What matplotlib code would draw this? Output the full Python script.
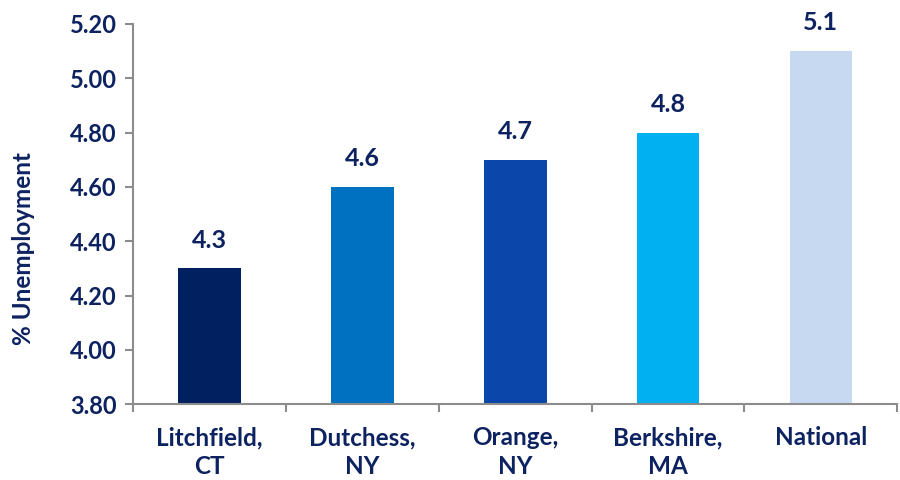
import numpy as np
import matplotlib.pyplot as plt

categories = ["Litchfield,\nCT", "Dutchess,\nNY", "Orange,\nNY", "Berkshire,\nMA", "National"]
rates = [4.3, 4.6, 4.7, 4.8, 5.1]
colors = ["#002060", "#0070C0", "#0B47AB", "#00B0F0", "#C6D9F0"]
y_ticks = [3.80, 4.00, 4.20, 4.40, 4.60, 4.80, 5.00, 5.20]

navy = "#0D2260"
axis_grey = "#8C8C8C"
plt.rcParams['font.family'] = ['Lato', 'DejaVu Sans']

fig = plt.figure(figsize=(9, 4.8), dpi=100)
ax = fig.add_axes([0.148, 0.158, 0.849, 0.792])

x = np.arange(len(categories))
ax.bar(x, rates, width=0.41, color=colors, zorder=2)

for xi, v in zip(x, rates):
    ax.annotate(f"{v:.1f}", (xi, v), xytext=(0, 12), textcoords="offset points",
                ha="center", va="bottom", fontsize=18, fontweight="bold", color=navy)

ax.set_ylim(3.80, 5.20)
ax.set_xlim(-0.5, len(categories) - 0.5)
ax.set_yticks(y_ticks)
ax.set_yticklabels([f"{t:.2f}" for t in y_ticks], fontsize=17, fontweight="bold", color=navy)

ax.set_xticks(x)
ax.set_xticklabels(categories, fontsize=17.5, fontweight="bold", color=navy, linespacing=1.28)
ax.set_xticks(np.arange(len(categories) + 1) - 0.5, minor=True)
ax.tick_params(axis="x", which="major", length=0, pad=16)
ax.tick_params(axis="x", which="minor", length=6, width=1.5, color=axis_grey, direction="out")
ax.tick_params(axis="y", length=6, width=1.5, color=axis_grey, direction="out", pad=6)

for side in ("top", "right"):
    ax.spines[side].set_visible(False)
for side in ("left", "bottom"):
    ax.spines[side].set_color(axis_grey)
    ax.spines[side].set_linewidth(1.5)

ax.set_ylabel("% Unemployment", fontsize=17.5, fontweight="bold", color=navy)
ax.yaxis.set_label_coords(-0.128, 0.41)

fig.savefig("out.png", dpi=100)
